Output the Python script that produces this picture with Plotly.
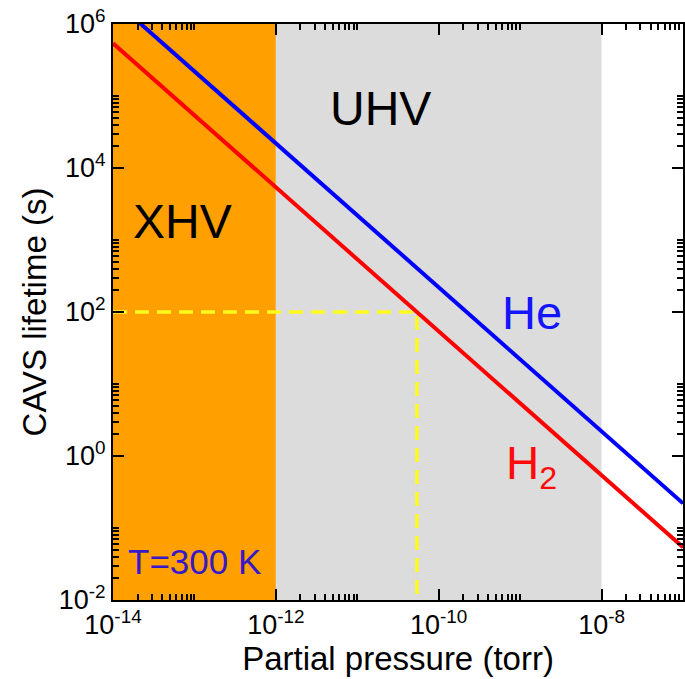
import numpy as np
import plotly.graph_objects as go

# ---- data ----
pressure = [1e-14, 1e-13, 1e-12, 1e-11, 1e-10, 1e-9, 1e-8, 1e-7]          # torr
he_lifetime = [2.2e6, 2.2e5, 2.2e4, 2.2e3, 2.2e2, 2.2e1, 2.2, 0.22]       # s
h2_lifetime = [5.4e5, 5.4e4, 5.4e3, 5.4e2, 5.4e1, 5.4, 0.54, 0.054]      # s

xhv_region = [1e-14, 1e-12]     # torr
uhv_region = [1e-12, 1e-8]      # torr
y_span = [1e-2, 1e6]

target_lifetime = 100.0          # s
h2_pressure_at_target = 5.4e-11  # torr

x_major = [1e-14, 1e-12, 1e-10, 1e-8]
x_major_text = ["10<sup>-14</sup>", "10<sup>-12</sup>", "10<sup>-10</sup>", "10<sup>-8</sup>"]
y_major = [1e-2, 1e0, 1e2, 1e4, 1e6]
y_major_text = ["10<sup>-2</sup>", "10<sup>0</sup>", "10<sup>2</sup>", "10<sup>4</sup>", "10<sup>6</sup>"]
minor_factors = [2, 3, 4, 5, 6, 7, 8, 9, 10]

x_minor = [m * k for m in x_major for k in minor_factors]
y_minor = [m * k for m in y_major[:-1] for k in minor_factors]

ORANGE = "rgb(255,160,0)"
GRAY = "rgb(220,220,220)"
FONT = "Liberation Sans, Arial, Helvetica, sans-serif"

fig = go.Figure()

# shaded regions
fig.add_trace(go.Scatter(
    x=[xhv_region[0], xhv_region[1], xhv_region[1], xhv_region[0]],
    y=[y_span[0], y_span[0], y_span[1], y_span[1]],
    fill="toself", fillcolor=ORANGE, line=dict(width=0), mode="lines",
    hoverinfo="skip", showlegend=False))
fig.add_trace(go.Scatter(
    x=[uhv_region[0], uhv_region[1], uhv_region[1], uhv_region[0]],
    y=[y_span[0], y_span[0], y_span[1], y_span[1]],
    fill="toself", fillcolor=GRAY, line=dict(width=0), mode="lines",
    hoverinfo="skip", showlegend=False))

# yellow dashed guide lines
fig.add_trace(go.Scatter(
    x=[xhv_region[0], h2_pressure_at_target, h2_pressure_at_target],
    y=[target_lifetime, target_lifetime, y_span[0]],
    mode="lines", line=dict(color="rgb(255,250,30)", width=3.5, dash="14px,8px"),
    hoverinfo="skip", showlegend=False))

# lifetimes
fig.add_trace(go.Scatter(x=pressure, y=he_lifetime, mode="lines",
                         line=dict(color="rgb(0,0,255)", width=4), name="He", showlegend=False))
fig.add_trace(go.Scatter(x=pressure, y=h2_lifetime, mode="lines",
                         line=dict(color="rgb(255,0,0)", width=4), name="H2", showlegend=False))

axis_common = dict(
    type="log", showgrid=False, zeroline=False,
    showline=True, linecolor="black", linewidth=2, mirror="ticks",
    ticks="inside", ticklen=11, tickwidth=2, tickcolor="black",
    tickmode="array",
    tickfont=dict(family=FONT, size=27, color="black"),
    title_font=dict(family=FONT, size=33, color="black"),
)

fig.update_xaxes(
    **axis_common,
    range=[-14, -7],
    tickvals=x_major, ticktext=x_major_text,
    minor=dict(tickmode="array", tickvals=x_minor, ticks="inside", ticklen=6,
               tickwidth=2, tickcolor="black", showgrid=False),
    title_text="Partial pressure (torr)", title_standoff=0,
)
fig.update_yaxes(
    **axis_common,
    range=[-2, 6],
    tickvals=y_major, ticktext=y_major_text,
    minor=dict(tickmode="array", tickvals=y_minor, ticks="inside", ticklen=6,
               tickwidth=2, tickcolor="black", showgrid=False),
    title_text="CAVS lifetime (s)", title_standoff=2,
)

def label(x, y, text, color, size, xanchor="center"):
    fig.add_annotation(x=np.log10(x), y=np.log10(y), text=text, showarrow=False,
                       xref="x", yref="y", xanchor=xanchor, yanchor="middle",
                       font=dict(family=FONT, size=size, color=color))

label(10 ** -10.72, 10 ** 4.83, "UHV", "black", 48)
label(10 ** -13.15, 10 ** 3.26, "XHV", "black", 48)
label(10 ** -8.86, 10 ** 2.0, "He", "rgb(20,20,255)", 47)
label(10 ** -9.2, 10 ** -0.14, "H<sub>2</sub>", "rgb(255,10,10)", 46, xanchor="left")
label(10 ** -13.0, 10 ** -1.46, "T=300 K", "rgb(55,25,200)", 35)

fig.update_layout(
    width=685, height=679,
    margin=dict(l=113, r=0, t=24, b=79),
    paper_bgcolor="white", plot_bgcolor="white",
    font=dict(family=FONT),
)

fig.write_html("out.html")
